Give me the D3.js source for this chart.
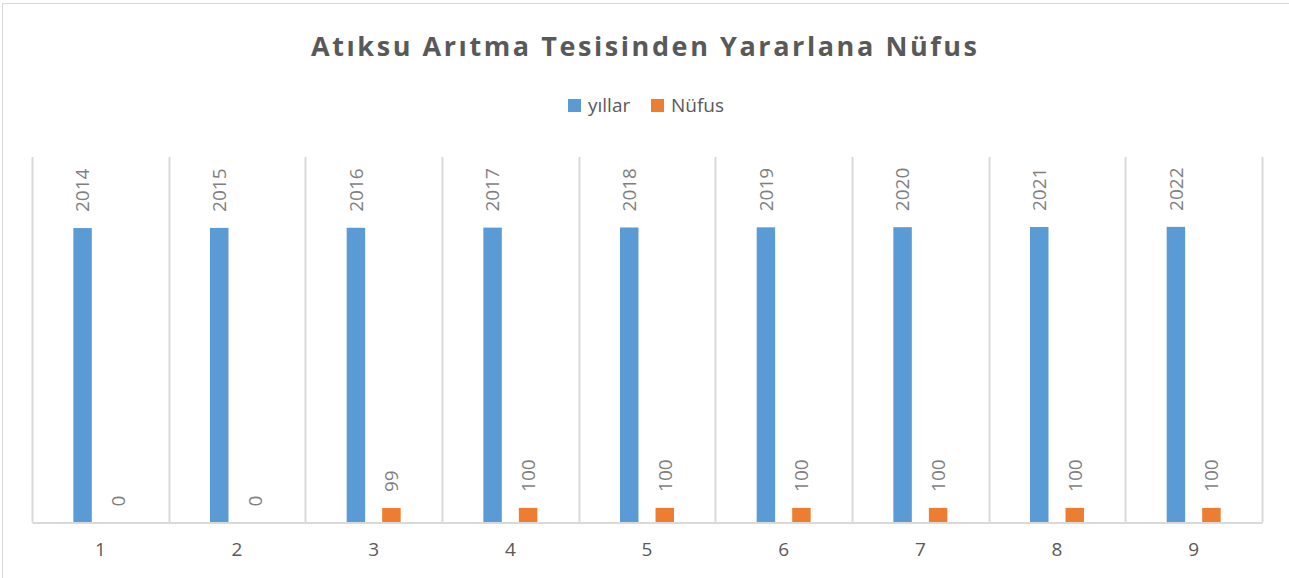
<!DOCTYPE html>
<html>
<head>
<meta charset="utf-8">
<script src="https://cdn.jsdelivr.net/npm/d3@7"></script>
<style>
  body { margin: 0; background: #fff; }
  text { font-family: "Open Sans", "Noto Sans", sans-serif; }
</style>
</head>
<body>
<div id="chart"></div>
<script>
var categories = ["1", "2", "3", "4", "5", "6", "7", "8", "9"];
var yillar = [2014, 2015, 2016, 2017, 2018, 2019, 2020, 2021, 2022];
var nufus = [0, 0, 99, 100, 100, 100, 100, 100, 100];
var seriesNames = ["yıllar", "Nüfus"];
var colors = ["#5b9bd5", "#ed7d31"];

var width = 1289, height = 578;
var margin = {top: 157, right: 27, bottom: 55.5, left: 32};

var svg = d3.select("#chart")
  .append("svg")
    .attr("width", width)
    .attr("height", height);

// chart border
svg.append("rect")
  .attr("x", 2.5).attr("y", 3.5)
  .attr("width", 1300).attr("height", 600)
  .attr("fill", "none")
  .attr("stroke", "#d9d9d9");

var x = d3.scaleBand()
  .domain(categories)
  .range([margin.left, width - margin.right]);

var x1 = d3.scaleBand()
  .domain(seriesNames)
  .range([x.bandwidth() / 2 - 27, x.bandwidth() / 2 + 27])
  .paddingInner(0.48);

var y = d3.scaleLinear()
  .domain([0, 2500])
  .range([height - margin.bottom, margin.top]);

// vertical gridlines at category boundaries
var bounds = categories.map(function(c) { return x(c); }).concat([x.range()[1]]);
svg.selectAll("gridline")
  .data(bounds)
  .enter()
  .append("line")
    .attr("x1", function(d) { return Math.round(d) + 0.5; })
    .attr("x2", function(d) { return Math.round(d) + 0.5; })
    .attr("y1", y(2500))
    .attr("y2", y(0))
    .attr("stroke", "#d9d9d9")
    .attr("stroke-width", 2);

var data = categories.map(function(c, i) {
  return {cat: c, vals: [yillar[i], nufus[i]]};
});

var groups = svg.selectAll("grp")
  .data(data)
  .enter()
  .append("g")
    .attr("transform", function(d) { return "translate(" + x(d.cat) + ",0)"; });

var bars = groups.selectAll("bar")
  .data(function(d) {
    return d.vals.map(function(v, j) { return {name: seriesNames[j], v: v, j: j}; });
  })
  .enter();

bars.append("rect")
  .attr("x", function(d) { return x1(d.name); })
  .attr("width", x1.bandwidth())
  .attr("y", function(d) { return y(d.v); })
  .attr("height", function(d) { return y(0) - y(d.v); })
  .attr("fill", function(d) { return colors[d.j]; });

bars.append("text")
  .attr("transform", function(d) {
    return "translate(" + (x1(d.name) + x1.bandwidth() / 2) + "," + (y(d.v) - 16) + ")rotate(-90)";
  })
  .attr("dy", "0.36em")
  .attr("text-anchor", "start")
  .attr("font-size", 19)
  .attr("fill", "#7f7f7f")
  .text(function(d) { return d.v; });

// x axis
var xAxis = svg.append("g")
  .attr("transform", "translate(0," + y(0) + ")")
  .call(d3.axisBottom(x).tickSize(0).tickPadding(20));
xAxis.select(".domain")
  .attr("stroke", "#d9d9d9")
  .attr("stroke-width", 2);
xAxis.selectAll("text")
  .attr("font-family", "Open Sans, sans-serif")
  .attr("font-size", 19)
  .attr("fill", "#595959");

// title
svg.append("text")
  .attr("x", 644)
  .attr("y", 56)
  .attr("text-anchor", "middle")
  .attr("font-size", 27)
  .attr("font-weight", "bold")
  .attr("fill", "#595959")
  .attr("textLength", 666)
  .attr("lengthAdjust", "spacing")
  .text("Atıksu Arıtma Tesisinden Yararlana Nüfus");

// legend
var legendX = [568, 651];
var legend = svg.selectAll("legend")
  .data(seriesNames)
  .enter()
  .append("g")
    .attr("transform", function(d, i) { return "translate(" + legendX[i] + ",99)"; });
legend.append("rect")
  .attr("width", 13)
  .attr("height", 13)
  .attr("fill", function(d, i) { return colors[i]; });
legend.append("text")
  .attr("x", 20)
  .attr("y", 13)
  .attr("font-size", 19)
  .attr("fill", "#595959")
  .text(function(d) { return d; });
</script>
</body>
</html>
